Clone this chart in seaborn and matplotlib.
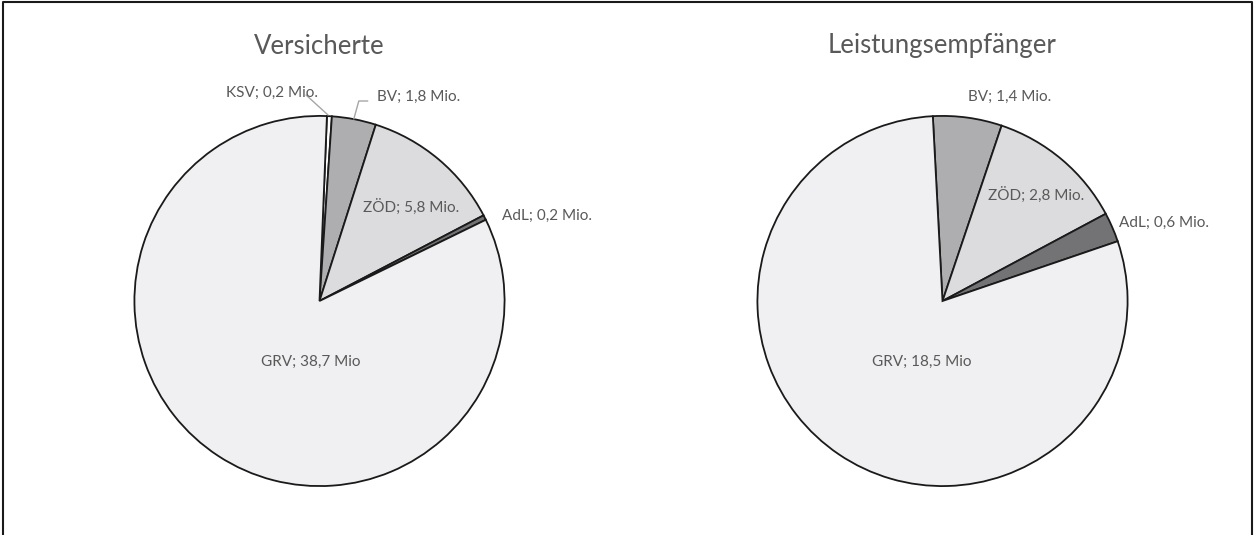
import matplotlib
matplotlib.use("Agg")
import matplotlib.pyplot as plt
from matplotlib.lines import Line2D
import seaborn as sns

sns.set_theme(style="white")
plt.rcParams['font.family'] = ['Lato', 'DejaVu Sans']

# Data
left_title = "Versicherte"
left_cats = ["KSV", "BV", "ZÖD", "AdL", "GRV"]
left_vals = [0.2, 1.8, 5.8, 0.2, 38.7]
left_labels = ["KSV; 0,2 Mio.", "BV; 1,8 Mio.", "ZÖD; 5,8 Mio.", "AdL; 0,2 Mio.", "GRV; 38,7 Mio"]

right_title = "Leistungsempfänger"
right_cats = ["BV", "ZÖD", "AdL", "GRV"]
right_vals = [1.4, 2.8, 0.6, 18.5]
right_labels = ["BV; 1,4 Mio.", "ZÖD; 2,8 Mio.", "AdL; 0,6 Mio.", "GRV; 18,5 Mio"]

color_map = {"KSV": "#FFFFFF", "BV": "#AEAEB1", "ZÖD": "#DCDCDE",
             "AdL": "#737376", "GRV": "#F0F0F2"}

W, H = 1255, 535
fig = plt.figure(figsize=(W / 100, H / 100), dpi=100)
fig.patch.set_facecolor("white")

R = 186
TXT = "#595959"
LEAD = "#A6A6A6"

def make_axes(cx, cy):
    return fig.add_axes([(cx - R) / W, (H - cy - R) / H, 2 * R / W, 2 * R / H])

def px(cx, cy, x, y):
    return ((x - cx) / R, (cy - y) / R)

def setup(ax):
    ax.set_xlim(-1.005, 1.005); ax.set_ylim(-1.005, 1.005); ax.set_aspect("equal")
    ax.axis("off")

# left pie
cxL, cyL = 319.5, 301
axL = make_axes(cxL, cyL)
axL.pie(left_vals, colors=[color_map[c] for c in left_cats], startangle=87.7,
        counterclock=False, radius=1,
        wedgeprops=dict(edgecolor="#1a1a1a", linewidth=1.3))
setup(axL)
posL = [(272, 92), (419, 96), (412, 206), (548, 215), (311, 362)]
for lab, (x, y) in zip(left_labels, posL):
    axL.text(*px(cxL, cyL, x, y), lab, ha="center", va="center", fontsize=11, color=TXT)
# leader lines
l1 = [px(cxL, cyL, 306, 94), px(cxL, cyL, 328, 114)]
l2 = [px(cxL, cyL, 368, 100), px(cxL, cyL, 359, 100), px(cxL, cyL, 354, 118)]
for pts in (l1, l2):
    axL.add_line(Line2D([p[0] for p in pts], [p[1] for p in pts], color=LEAD, lw=1, clip_on=False))
fig.text(cxL / W, 1 - 46 / H, left_title, ha="center", va="center", fontsize=18.5, color=TXT)

# right pie
cxR, cyR = 942.5, 301
axR = make_axes(cxR, cyR)
axR.pie(right_vals, colors=[color_map[c] for c in right_cats], startangle=93,
        counterclock=False, radius=1,
        wedgeprops=dict(edgecolor="#1a1a1a", linewidth=1.3))
setup(axR)
posR = [(1010, 96), (1037, 194), (1165, 223), (922, 362)]
for lab, (x, y) in zip(right_labels, posR):
    axR.text(*px(cxR, cyR, x, y), lab, ha="center", va="center", fontsize=11, color=TXT)
fig.text(cxR / W, 1 - 46 / H, right_title, ha="center", va="center", fontsize=18.5, color=TXT)

# outer frame (left, top, right)
fr = dict(color="#1a1a1a", lw=1.5, transform=fig.transFigure)
fig.add_artist(Line2D([3 / W, 3 / W, 1252 / W, 1252 / W], [0, 1 - 2 / H, 1 - 2 / H, 0], **fr))

fig.savefig("out.png", dpi=100, facecolor="white")
